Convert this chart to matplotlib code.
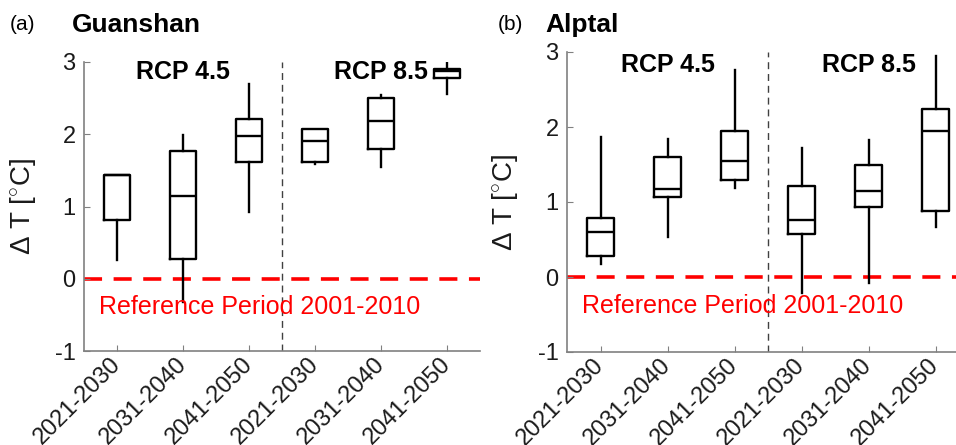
import numpy as np
import matplotlib.pyplot as plt


# ************************************************************
# Data
# ************************************************************

periods = ["2021-2030", "2031-2040", "2041-2050",
           "2021-2030", "2031-2040", "2041-2050"]

# Guanshan
gs_low = [0.26, -0.32, 0.93, 1.59, 1.55, 2.56]
gs_q1 = [0.82, 0.27, 1.62, 1.62, 1.80, 2.78]
gs_med = [1.43, 1.15, 1.97, 1.91, 2.18, 2.87]
gs_q3 = [1.44, 1.77, 2.21, 2.07, 2.50, 2.90]
gs_high = [1.44, 1.99, 2.69, 2.07, 2.54, 3.00]

# Alptal
al_low = [0.17, 0.53, 1.19, -0.21, -0.08, 0.67]
al_q1 = [0.28, 1.07, 1.29, 0.57, 0.94, 0.88]
al_med = [0.60, 1.17, 1.55, 0.76, 1.15, 1.95]
al_q3 = [0.79, 1.60, 1.95, 1.21, 1.49, 2.24]
al_high = [1.87, 1.84, 2.76, 1.72, 1.83, 2.95]

scenarios = ["RCP 4.5", "RCP 8.5"]
ref_text = "Reference Period 2001-2010"

plt.rcParams['font.family'] = ['Liberation Sans', 'DejaVu Sans']
plt.rcParams['mathtext.fontset'] = 'custom'
plt.rcParams['mathtext.rm'] = 'Liberation Sans'
plt.rcParams['mathtext.it'] = 'Liberation Sans'
plt.rcParams['axes.unicode_minus'] = False

W, H = 956, 445
fig = plt.figure(figsize=(W/100, H/100), dpi=100)


def px_axes(left, top, right, bottom):
    return fig.add_axes([left/W, 1 - bottom/H, (right-left)/W, (bottom-top)/H])


def draw_panel(ax, low, q1, med, q3, high, label_y, ylab_x):
    stats = []
    for i in range(len(med)):
        stats.append(dict(
            whislo=low[i], q1=q1[i], med=med[i], q3=q3[i], whishi=high[i],
            fliers=[]
        ))

    ax.bxp(
        stats,
        positions=np.arange(1, len(med)+1),
        widths=0.4,
        showcaps=False,
        showfliers=False,
        boxprops=dict(color='black', linewidth=1.7),
        whiskerprops=dict(color='black', linewidth=1.7),
        medianprops=dict(color='black', linewidth=1.7),
    )

    # reference line
    ax.axhline(0, color='red', linewidth=2.6, dashes=(5, 3.2), zorder=0)
    ax.text(0.72, -0.39, ref_text, color='red', fontsize=18,
            ha='left', va='center')

    # scenario separator
    ax.axvline(3.5, color='#404040', linewidth=1.0, dashes=(5, 3.5))

    ax.text(2, label_y, scenarios[0], fontsize=18, fontweight='bold',
            ha='center', va='center')
    ax.text(5, label_y, scenarios[1], fontsize=18, fontweight='bold',
            ha='center', va='center')

    ax.set_xlim(0.5, 6.5)
    ax.set_ylim(-1, 3)
    ax.set_yticks([-1, 0, 1, 2, 3])
    ax.set_xticks(np.arange(1, 7))
    ax.set_xticklabels(periods, rotation=45, ha='right',
                       va='center', rotation_mode='anchor')

    for s in ['top', 'right']:
        ax.spines[s].set_visible(False)
    for s in ['left', 'bottom']:
        ax.spines[s].set_color('#808080')
        ax.spines[s].set_linewidth(1.2)

    ax.tick_params(direction='in', length=4, color='#808080',
                   labelsize=17, labelcolor='#1a1a1a', pad=6)
    ax.tick_params(axis='x', pad=7)

    ax.set_ylabel(r'$\Delta$ T [$^{\circ}$C]', fontsize=20, color='#1a1a1a')
    ax.yaxis.set_label_coords(ylab_x, 0.5)


# ************************************************************
# Panel (a) Guanshan
# ************************************************************

ax1 = px_axes(84, 62, 480, 351)
draw_panel(ax1, gs_low, gs_q1, gs_med, gs_q3, gs_high, 2.86, -0.116)

# ************************************************************
# Panel (b) Alptal
# ************************************************************

ax2 = px_axes(567, 52, 969, 352)
draw_panel(ax2, al_low, al_q1, al_med, al_q3, al_high, 2.83, -0.117)

fig.text(10/W, 1 - 25/H, "(a)", fontsize=15, ha='left', va='center')
fig.text(72/W, 1 - 25/H, "Guanshan", fontsize=19, fontweight='bold',
         ha='left', va='center')
fig.text(498/W, 1 - 25/H, "(b)", fontsize=15, ha='left', va='center')
fig.text(545/W, 1 - 25/H, "Alptal", fontsize=19, fontweight='bold',
         ha='left', va='center')

fig.savefig("out.png", dpi=100)
